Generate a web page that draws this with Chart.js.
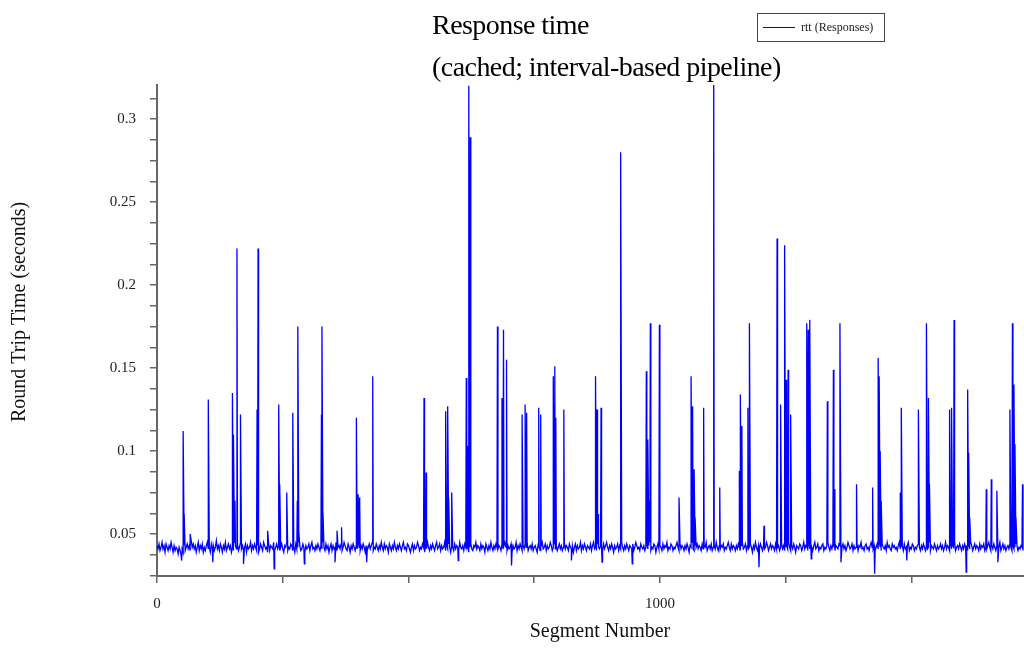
<!DOCTYPE html>
<html>
<head>
<meta charset="utf-8">
<title>Response time</title>
<script src="https://cdn.jsdelivr.net/npm/chart.js@4.4.1/dist/chart.umd.min.js"></script>
<style>
  html, body { margin: 0; padding: 0; background: #fff; }
  #wrap { position: relative; width: 1024px; height: 650px; }
  #rtt { display: block; }
</style>
</head>
<body>
<div id="wrap"><canvas id="rtt" width="1024" height="650"></canvas></div>
<script>
    "use strict";

    // --- data ---------------------------------------------------------------
    // baseline rtt in ms, one value every 2 segments (segment 0 .. 1722)
    const segStep = 2;
    const rttMs = [
        43,41,44,40,42,45,41,43,39,44,42,40,43,41,45,42,39,43,40,42,
        41,38,42,40,37,41,39,43,40,42,44,41,43,40,46,42,44,41,43,39,
        42,45,40,43,41,44,39,42,40,43,45,41,42,39,44,41,43,40,42,46,
        41,43,40,44,42,39,43,41,45,40,42,44,41,43,39,42,40,45,43,41,
        44,40,42,45,41,43,40,42,44,39,43,41,42,45,40,43,41,44,42,40,
        43,39,41,44,42,40,45,43,41,42,39,44,40,43,42,41,45,40,42,44,
        41,43,40,42,44,41,39,43,42,45,40,42,41,44,43,40,42,39,44,41,
        42,45,43,40,41,44,42,39,43,41,42,44,40,43,45,41,42,40,43,41,
        44,42,40,43,41,45,42,40,44,41,43,39,42,44,40,43,41,42,45,40,
        42,43,41,44,40,42,45,43,41,40,44,42,39,43,41,44,42,40,43,41,
        45,42,40,43,41,44,42,39,43,40,42,44,41,43,45,40,42,41,44,42,
        40,43,41,45,42,40,44,41,43,42,39,44,42,40,43,41,45,42,40,43,
        41,44,42,40,43,45,41,42,40,44,43,41,39,42,44,40,43,41,42,45,
        43,40,42,41,44,42,39,43,41,45,42,40,43,41,44,42,40,43,45,41,
        42,44,40,43,41,42,45,40,43,41,44,42,39,43,42,40,44,41,43,42,
        40,45,42,41,43,40,44,42,41,43,39,42,44,41,40,43,42,45,41,43,
        42,40,44,41,43,42,39,44,42,40,43,41,45,42,40,43,41,44,42,41,
        43,42,40,44,41,43,45,42,40,43,41,42,44,39,43,41,42,45,40,43,
        41,44,42,40,43,41,44,42,45,40,42,43,41,44,40,42,43,41,39,44,
        42,40,43,45,41,42,44,40,43,41,42,45,43,40,42,44,41,43,40,42,
        44,41,43,40,42,45,41,43,42,40,44,42,41,43,39,42,44,40,43,41,
        42,45,40,43,41,44,42,40,43,42,41,44,40,43,45,41,42,40,44,42,
        41,43,42,40,44,41,43,45,42,40,43,41,44,42,39,43,41,42,44,40,
        43,41,45,42,40,43,41,44,42,40,43,42,41,44,40,42,45,43,41,42,
        40,44,42,41,43,40,42,44,41,43,45,40,42,41,44,43,39,42,44,41,
        43,42,40,44,41,43,42,45,40,42,41,44,43,40,42,41,43,45,42,40,
        44,41,43,42,40,43,41,44,42,39,43,42,45,41,40,43,42,44,41,43,
        42,40,44,41,43,42,45,40,42,43,41,44,40,42,43,41,45,42,40,43,
        41,43,42,44,40,42,41,43,45,42,40,44,41,43,42,40,43,41,44,42,
        40,43,45,41,42,44,40,43,41,42,44,42,39,43,41,45,42,40,43,41,
        44,42,40,43,41,42,45,43,40,42,44,41,43,42,40,44,41,42,43,40,
        42,44,41,43,40,42,43,41,45,42,40,43,41,44,42,39,43,42,41,44,
        43,40,42,45,41,43,42,40,44,41,43,42,40,43,45,41,42,44,40,42,
        41,43,44,40,42,41,43,45,42,40,43,41,44,42,40,43,42,41,44,43,
        40,42,44,41,43,40,42,45,43,41,42,44,40,43,41,42,44,40,43,42,
        45,41,42,40,43,44,41,42,40,43,45,42,41,43,40,42,44,41,43,42,
        40,44,42,41,43,40,45,42,43,41,40,44,42,43,41,42,40,43,45,41,
        42,43,40,44,41,42,43,45,40,42,41,44,43,40,42,41,43,44,42,40,
        43,41,44,42,40,43,41,42,45,40,43,42,41,44,42,40,43,41,42,44,
        41,43,40,42,45,41,43,42,40,44,41,43,42,45,40,42,43,41,44,42,
        40,43,41,44,42,43,40,42,41,45,43,40,42,44,41,43,42,40,44,41,
        43,42,44,40,42,41,43,45,42,40,43,41,44,42,40,43,41,42,45,40,
        42,44,41,43,40,42,43,41,44,42,40,43,41,42,44,43,40,42,41,43,
        42,40
    ];

    // individual segments that stand out from the baseline: [segment, rtt ms]
    const spikes = [
        [49, 34], [52, 112], [54, 62], [66, 50], [102, 131], [111, 33],
        [150, 135], [152, 110], [155, 70], [159, 222], [166, 122], [172, 32],
        [199, 125], [201, 222], [220, 52], [233, 29], [242, 128], [244, 80],
        [258, 75], [270, 123], [279, 70], [280, 175], [282, 51], [293, 32],
        [327, 122], [328, 175], [330, 63], [354, 33], [358, 52], [367, 54],
        [396, 74], [397, 120], [400, 74], [403, 72], [417, 33], [429, 145],
        [531, 132], [535, 87], [574, 124], [578, 127], [580, 72], [586, 75],
        [599, 34], [615, 144], [617, 103], [620, 320], [623, 289],
        [677, 175], [686, 132], [689, 173], [695, 155], [705, 31],
        [726, 122], [732, 128], [735, 123], [759, 126], [763, 122],
        [788, 145], [791, 151], [793, 120], [809, 125], [824, 34],
        [872, 145], [875, 125], [877, 62], [883, 126], [885, 33],
        [922, 280], [945, 32], [973, 148], [976, 107], [978, 70],
        [981, 177], [999, 176], [1038, 72], [1062, 145], [1065, 127],
        [1068, 89], [1070, 60], [1087, 126], [1107, 330], [1119, 78],
        [1158, 88], [1160, 134], [1163, 115], [1175, 126], [1178, 177],
        [1197, 30], [1207, 55], [1233, 228], [1240, 128], [1248, 224],
        [1251, 143], [1255, 149], [1260, 122], [1292, 177], [1295, 173],
        [1298, 179], [1301, 35], [1333, 130], [1345, 149], [1347, 77],
        [1358, 177], [1360, 33], [1391, 80], [1423, 78], [1427, 26],
        [1434, 156], [1436, 145], [1438, 100], [1440, 70], [1478, 75],
        [1480, 126], [1491, 34], [1514, 125], [1530, 177], [1534, 132],
        [1536, 80], [1576, 125], [1580, 126], [1585, 179], [1609, 27],
        [1612, 137], [1614, 99], [1616, 60], [1649, 77], [1659, 83],
        [1670, 76], [1672, 33], [1696, 125], [1701, 177], [1704, 140],
        [1706, 104], [1708, 60], [1721, 80]
    ];

    const xTicks = [0, 250, 500, 750, 1000, 1250, 1500];
    const xLabeled = [0, 1000];
    const yTicks = [0.025, 0.0375, 0.05, 0.0625, 0.075, 0.0875, 0.1, 0.1125, 0.125, 0.1375,
        0.15, 0.1625, 0.175, 0.1875, 0.2, 0.2125, 0.225, 0.2375, 0.25, 0.2625, 0.275, 0.2875,
        0.3, 0.3125];
    const yLabeled = [0.05, 0.1, 0.15, 0.2, 0.25, 0.3];

    const titleLines = ["Response time", "(cached; interval-based pipeline)"];
    const seriesLabel = "rtt (Responses)";
    const xTitle = "Segment Number";
    const yTitle = "Round Trip Time (seconds)";

    // --- build --------------------------------------------------------------
    const SERIF = '"Liberation Serif", "Times New Roman", serif';
    const AXIS = "#666";

    const points = [];
    rttMs.forEach((v, i) => points.push({ x: i * segStep, y: v / 1000 }));
    spikes.forEach(([seg, ms]) => points.push({ x: seg, y: ms / 1000 }));
    points.sort((a, b) => a.x - b.x);

    /** Заголовок, легенда и подписи осей — рисуем сами. */
    const decorations = {
        id: "decorations",
        afterDraw(chart) {
            const ctx = chart.ctx;
            ctx.save();
            ctx.fillStyle = "#000";
            ctx.textAlign = "left";
            ctx.textBaseline = "alphabetic";
            ctx.font = `28px ${SERIF}`;
            ctx.letterSpacing = "-0.55px";
            ctx.fillText(titleLines[0], 432, 34);
            ctx.fillText(titleLines[1], 432, 76);
            ctx.letterSpacing = "0px";

            // legend box
            ctx.strokeStyle = "#444";
            ctx.lineWidth = 1;
            ctx.strokeRect(757.5, 13.5, 127, 28);
            ctx.strokeStyle = chart.data.datasets[0].borderColor;
            ctx.beginPath();
            ctx.moveTo(763, 27.5);
            ctx.lineTo(795, 27.5);
            ctx.stroke();
            ctx.fillStyle = "#222";
            ctx.font = `12px ${SERIF}`;
            ctx.textBaseline = "middle";
            ctx.fillText(seriesLabel, 801, 28);

            // axis titles
            ctx.fillStyle = "#111";
            ctx.font = `20px ${SERIF}`;
            ctx.textAlign = "center";
            ctx.fillText(xTitle, 600, 632);
            ctx.translate(20, 312);
            ctx.rotate(-Math.PI / 2);
            ctx.fillText(yTitle, 0, 0);
            ctx.restore();
        },
    };

    new Chart(document.getElementById("rtt"), {
        type: "line",
        data: {
            datasets: [{
                label: seriesLabel,
                data: points,
                borderColor: "#0000ff",
                borderWidth: 1.3,
                pointRadius: 0,
                tension: 0,
                fill: false,
            }],
        },
        options: {
            responsive: false,
            animation: false,
            parsing: false,
            layout: { padding: { top: 85, left: 0, right: 0, bottom: 0 } },
            plugins: { legend: { display: false }, title: { display: false }, tooltip: { enabled: false } },
            scales: {
                x: {
                    type: "linear",
                    min: 0,
                    max: 1724,
                    afterBuildTicks: s => { s.ticks = xTicks.map(v => ({ value: v })); },
                    afterFit: s => { s.height = 74; },
                    grid: { drawOnChartArea: false, drawTicks: true, tickLength: 7, color: AXIS, lineWidth: 1.5 },
                    border: { display: true, color: AXIS, width: 2 },
                    ticks: {
                        autoSkip: false, maxRotation: 0, padding: 12, color: "#222",
                        font: { family: SERIF, size: 15 },
                        callback: v => (xLabeled.includes(v) ? String(v) : ""),
                    },
                },
                y: {
                    min: 0.0247,
                    max: 0.3205,
                    afterBuildTicks: s => { s.ticks = yTicks.map(v => ({ value: v })); },
                    afterFit: s => { s.width = 157; },
                    grid: { drawOnChartArea: false, drawTicks: true, tickLength: 7, color: AXIS, lineWidth: 1.5 },
                    border: { display: true, color: AXIS, width: 2 },
                    ticks: {
                        autoSkip: false, padding: 14, color: "#222",
                        font: { family: SERIF, size: 15 },
                        callback: v => (yLabeled.includes(v) ? String(v) : ""),
                    },
                },
            },
        },
        plugins: [decorations],
    });
</script>
</body>
</html>
